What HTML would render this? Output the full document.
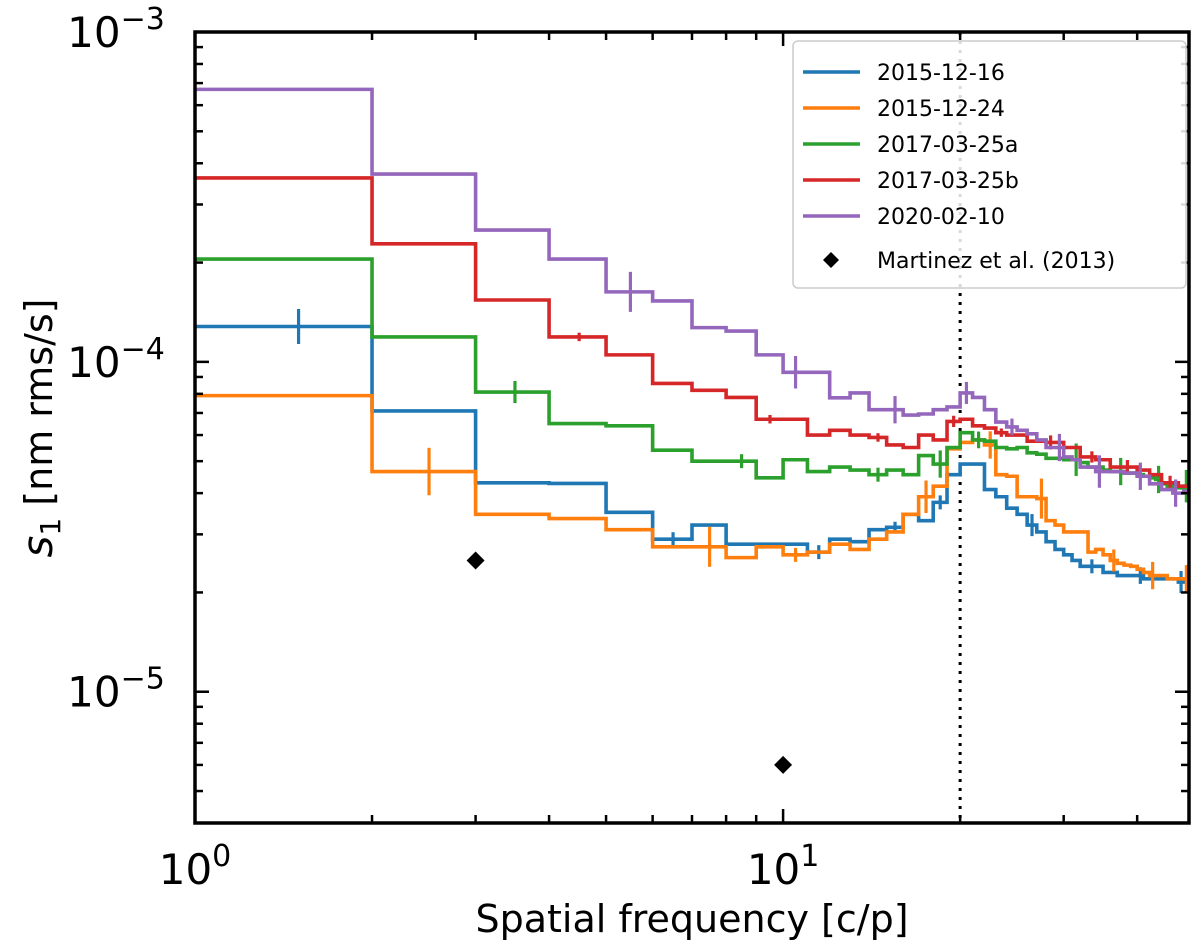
<!DOCTYPE html>
<html><head><meta charset="utf-8"><style>
body{margin:0;background:#fff}
svg{display:block;font-family:"DejaVu Sans","Liberation Sans",sans-serif}
</style></head><body>
<svg id="chart" width="1200" height="949" viewBox="0 0 1200 949" xmlns="http://www.w3.org/2000/svg"></svg>
<script>
// values in units of 1e-5, bins [k, k+1] for k = 1..48
const binStarts = Array.from({length:48},(_,i)=>i+1);
const seriesNames = ["2015-12-16","2015-12-24","2017-03-25a","2017-03-25b","2020-02-10"];
const seriesColors = ["#1f77b4","#ff7f0e","#2ca02c","#d62728","#9467bd"];
const blueVals = [12.8,7.1,4.3,4.28,3.5,2.9,3.2,2.8,2.8,2.8,2.65,2.9,2.85,3.1,3.15,3.45,3.3,3.75,4.55,4.9,4.9,4.1,3.9,3.6,3.45,3.2,3.05,2.85,2.7,2.6,2.5,2.4,2.4,2.4,2.3,2.3,2.25,2.25,2.25,2.25,2.2,2.2,2.2,2.2,2.2,2.2,2.15,2.15];
const orangeVals = [7.9,4.65,3.45,3.35,3.1,2.75,2.75,2.55,2.75,2.6,2.65,2.8,2.7,2.9,3.05,3.45,3.9,4.2,5.45,5.7,5.8,5.6,4.55,4.5,3.9,3.9,3.85,3.3,3.2,3.05,3.05,3.05,2.65,2.7,2.6,2.5,2.45,2.42,2.4,2.35,2.3,2.25,2.25,2.25,2.2,2.2,2.2,2.2];
const greenVals = [20.5,11.9,8.1,6.5,6.4,5.4,5.0,5.0,4.45,5.05,4.65,4.8,4.7,4.55,4.7,4.55,5.2,4.9,5.5,6.1,5.8,5.75,5.5,5.45,5.5,5.3,5.25,5.1,5.1,5.05,5.05,4.95,4.8,4.8,4.7,4.65,4.65,4.6,4.6,4.55,4.5,4.45,4.4,4.27,4.2,4.15,4.15,4.2];
const redVals = [36.1,22.8,15.4,11.9,10.5,8.6,8.2,7.8,6.7,6.7,6.0,6.2,6.0,5.9,5.6,5.5,6.0,5.8,6.6,6.7,6.4,6.3,6.1,6.0,6.0,5.75,5.75,5.7,5.7,5.5,5.5,5.15,5.15,5.05,5.05,4.8,4.8,4.8,4.8,4.7,4.7,4.55,4.55,4.3,4.3,4.3,4.2,4.2];
const purpleVals = [67,37.1,25.1,20.5,16.3,15.3,12.7,12.4,10.5,9.3,9.3,7.78,8.05,7.16,7.16,6.9,6.95,7.16,7.3,8.05,7.8,7.16,6.57,6.35,6.2,6.05,5.8,5.5,5.5,5.15,5.05,4.8,4.8,4.65,4.65,4.65,4.65,4.6,4.6,4.5,4.5,4.27,4.27,4.1,4.1,4.0,4.0,4.05];
// error bars: bin index (1-based), relative error factor
const blueErrBins = [1,6,11,15,18,26,33,40,47];
const blueErrFac = [1.13,1.05,1.05,1.04,1.05,1.08,1.05,1.06,1.08];
const orangeErrBins = [2,7,10,17,22,27,36,42,48];
const orangeErrFac = [1.18,1.15,1.05,1.12,1.1,1.15,1.08,1.1,1.1];
const greenErrBins = [3,8,14,18,21,31,37,43,48];
const greenErrFac = [1.08,1.05,1.05,1.1,1.06,1.12,1.1,1.1,1.12];
const redErrBins = [4,9,14,19,23,28,33,38,45];
const redErrFac = [1.03,1.03,1.03,1.04,1.03,1.05,1.04,1.05,1.05];
const purpleErrBins = [5,10,15,20,24,29,34,40,46];
const purpleErrFac = [1.15,1.12,1.1,1.08,1.06,1.1,1.12,1.1,1.1];
const refX = [3,10];
const refY = [2.5,0.6];
const xTickVals = [1,10];
const xTickLabels = ["0","1"];
const yTickVals = [1e-3,1e-4,1e-5];
const yTickLabels = ["\u22123","\u22124","\u22125"];

const L=195,R=1189,T=32,B=823;
const xmin=1,xmax=49,ymin=4e-6,ymax=1e-3;
const X=v=>L+(Math.log10(v)-Math.log10(xmin))/(Math.log10(xmax)-Math.log10(xmin))*(R-L);
const Y=v=>T+(Math.log10(ymax)-Math.log10(v))/(Math.log10(ymax)-Math.log10(ymin))*(B-T);
const svg=document.getElementById('chart');
const NS="http://www.w3.org/2000/svg";
function mk(tag,attrs,parent){const e=document.createElementNS(NS,tag);for(const k in attrs)e.setAttribute(k,attrs[k]);(parent||svg).appendChild(e);return e;}

const clip=mk('clipPath',{id:'pc'});mk('rect',{x:L,y:T,width:R-L,height:B-T},clip);
const plot=mk('g',{'clip-path':'url(#pc)'});



const dl=mk('line',{x1:X(20),x2:X(20),y1:T,y2:B,stroke:'#000','stroke-width':3,'stroke-dasharray':'3,6'},plot);



const allVals=[blueVals,orangeVals,greenVals,redVals,purpleVals];
const allErrB=[blueErrBins,orangeErrBins,greenErrBins,redErrBins,purpleErrBins];
const allErrF=[blueErrFac,orangeErrFac,greenErrFac,redErrFac,purpleErrFac];
allVals.forEach((vals,si)=>{
  let d='';
  vals.forEach((v,i)=>{const x0=X(binStarts[i]),x1=X(binStarts[i]+1),y=Y(v*1e-5);d+=(i===0?'M':'L')+x0+','+y+'L'+x1+','+y;});
  const p=mk('path',{d:d,fill:'none',stroke:seriesColors[si],'stroke-width':3.6},plot);
  
  
  allErrB[si].forEach((b,j)=>{
    const v=vals[b-1]*1e-5,f=allErrF[si][j],xc=X(b+0.5);
    const e=mk('line',{x1:xc,x2:xc,y1:Y(v*f),y2:Y(v/f),stroke:seriesColors[si],'stroke-width':3.2},plot);
    
    
  });
});
refX.forEach((x,i)=>{
  const cx=X(x),cy=Y(refY[i]*1e-5),s=9;
  const m=mk('polygon',{points:`${cx},${cy-s} ${cx+s},${cy} ${cx},${cy+s} ${cx-s},${cy}`,fill:'#000'},plot);
  
  
});

const fr=mk('rect',{x:L,y:T,width:R-L,height:B-T,fill:'none',stroke:'#000','stroke-width':3.5});



const tg=mk('g',{stroke:'#000','stroke-width':2.5});


for(let dec=1;dec<=10;dec*=10){for(let k=1;k<10;k++){const v=k*dec;if(v<xmin||v>xmax)continue;const x=X(v),len=k===1?14:8;
  mk('line',{x1:x,x2:x,y1:B,y2:B-len},tg);mk('line',{x1:x,x2:x,y1:T,y2:T+len},tg);}}
for(let e=-6;e<=-3;e++){for(let k=1;k<10;k++){const v=k*Math.pow(10,e);if(v<ymin*0.999||v>ymax*1.001)continue;const y=Y(v),len=k===1?14:8;
  mk('line',{x1:L,x2:L+len,y1:y,y2:y},tg);mk('line',{x1:R,x2:R-len,y1:y,y2:y},tg);}}

xTickVals.forEach((v,i)=>{
  const t=mk('text',{x:X(v),y:884,'text-anchor':'middle','font-size':42,fill:'#000'});
  
  
  t.innerHTML='10<tspan dy="-18" font-size="30">'+xTickLabels[i]+'</tspan>';
});
yTickVals.forEach((v,i)=>{
  const t=mk('text',{x:116,y:Y(v)+15,'text-anchor':'middle','font-size':42,fill:'#000'});
  
  
  t.innerHTML='10<tspan dy="-18" font-size="30">'+yTickLabels[i]+'</tspan>';
});
const xt=mk('text',{x:692,y:932,'text-anchor':'middle','font-size':38,fill:'#000'});


xt.textContent='Spatial frequency [c/p]';
const yt=mk('text',{x:0,y:0,'text-anchor':'middle','font-size':38,fill:'#000',transform:'translate(52,428) rotate(-90)'});


yt.innerHTML='<tspan font-style="italic" font-size="42">s</tspan><tspan dy="8" font-size="28">1</tspan><tspan dy="-8"> [nm rms/s]</tspan>';

const lg=mk('g',{});


mk('rect',{x:793,y:41,width:393,height:247,rx:5,fill:'#fff','fill-opacity':0.85,stroke:'#ccc','stroke-width':1.5},lg);
seriesNames.forEach((n,i)=>{
  const y=72+i*36;
  const g=mk('g',{},lg);
  
  
  mk('line',{x1:803,x2:860,y1:y,y2:y,stroke:seriesColors[i],'stroke-width':3.6},g);
  const t=mk('text',{x:877,y:y+8,'font-size':22,fill:'#000'},g);t.textContent=n;
});
const g6=mk('g',{},lg);


mk('polygon',{points:'831,252 839,260 831,268 823,260',fill:'#000'},g6);
const t6=mk('text',{x:877,y:268,'font-size':22,fill:'#000'},g6);t6.textContent='Martinez et al. (2013)';
</script>
</body></html>
